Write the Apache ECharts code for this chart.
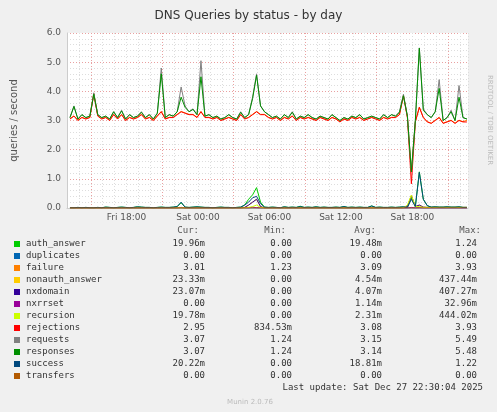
<!DOCTYPE html>
<html><head><meta charset="utf-8">
<script src="https://cdn.jsdelivr.net/npm/echarts@6/dist/echarts.min.js"></script>
<style>html,body{margin:0;padding:0;background:#F0F0F0}#c{width:497px;height:412px}</style>
</head><body><div id="c"></div>
<script>
// time: hours since Fri 00:00, 20-minute steps
const startHour = 13.25, stepHour = 1/3;
const xTickLabels = {18:'Fri 18:00',24:'Sat 00:00',30:'Sat 06:00',36:'Sat 12:00',42:'Sat 18:00'};
const requests = [3.1,3.5,3.05,3.2,3.1,3.15,3.95,3.2,3.1,3.15,
3.05,3.3,3.1,3.35,3.05,3.2,3.1,3.15,3.3,3.1,
3.2,3.05,3.25,4.8,3.1,3.2,3.15,3.3,4.15,3.5,
3.3,3.4,3.2,5.05,3.15,3.2,3.1,3.15,3.05,3.1,
3.2,3.1,3.05,3.3,3.1,3.2,3.8,4.6,3.5,3.3,
3.2,3.1,3.15,3.05,3.2,3.1,3.3,3.05,3.15,3.1,
3.2,3.1,3.05,3.15,3.1,3.05,3.2,3.1,3.0,3.1,
3.05,3.15,3.1,3.2,3.05,3.1,3.15,3.1,3.05,3.2,
3.1,3.2,3.15,3.3,3.9,3.15,1.24,3.0,5.49,3.4,
3.2,3.1,3.3,4.4,3.0,3.1,3.35,3.0,4.2,3.1,3.05];
const responses = [3.1,3.48,3.05,3.2,3.1,3.15,3.9,3.2,3.1,3.15,
3.05,3.3,3.1,3.33,3.05,3.2,3.1,3.15,3.28,3.1,
3.2,3.05,3.25,4.6,3.1,3.2,3.15,3.3,3.8,3.45,
3.3,3.38,3.2,4.5,3.15,3.2,3.1,3.15,3.05,3.1,
3.2,3.1,3.05,3.28,3.1,3.2,3.75,4.55,3.5,3.3,
3.2,3.1,3.15,3.05,3.2,3.1,3.28,3.05,3.15,3.1,
3.2,3.1,3.05,3.15,3.1,3.05,3.2,3.1,3.0,3.1,
3.05,3.15,3.1,3.2,3.05,3.1,3.15,3.1,3.05,3.2,
3.1,3.2,3.15,3.28,3.85,3.15,1.24,3.0,5.48,3.35,
3.2,3.1,3.3,4.1,3.0,3.1,3.3,3.0,3.8,3.1,3.05];
const rejections = [3.05,3.15,3.0,3.1,3.05,3.1,3.9,3.15,3.05,3.1,
3.0,3.2,3.05,3.2,3.0,3.1,3.05,3.1,3.2,3.05,
3.1,3.0,3.15,3.3,3.05,3.1,3.1,3.2,3.3,3.25,
3.2,3.2,3.1,3.3,3.1,3.1,3.05,3.1,3.0,3.05,
3.1,3.05,3.0,3.2,3.05,3.1,3.2,3.3,3.2,3.2,
3.1,3.05,3.1,3.0,3.1,3.05,3.15,3.0,3.1,3.05,
3.1,3.05,3.0,3.1,3.05,3.0,3.1,3.05,2.95,3.05,
3.0,3.1,3.05,3.1,3.0,3.05,3.1,3.05,3.0,3.1,
3.05,3.1,3.1,3.2,3.85,3.1,0.83,2.95,3.45,3.1,
2.95,2.9,3.0,3.1,2.9,2.95,3.0,2.9,3.0,2.95,2.95];
const failure = [3.06,3.16,3.01,3.11,3.06,3.11,3.93,3.16,3.06,3.11,
3.01,3.21,3.06,3.21,3.01,3.11,3.06,3.11,3.21,3.06,
3.11,3.01,3.16,3.31,3.06,3.11,3.11,3.21,3.31,3.26,
3.21,3.21,3.11,3.31,3.11,3.11,3.06,3.11,3.01,3.06,
3.11,3.06,3.01,3.21,3.06,3.11,3.21,3.31,3.21,3.21,
3.11,3.06,3.11,3.01,3.11,3.06,3.16,3.01,3.11,3.06,
3.11,3.06,3.01,3.11,3.06,3.01,3.11,3.06,2.96,3.06,
3.01,3.11,3.06,3.11,3.01,3.06,3.11,3.06,3.01,3.11,
3.06,3.11,3.11,3.21,3.86,3.11,1.23,2.96,3.46,3.11,
2.96,2.91,3.01,3.11,2.91,2.96,3.01,2.91,3.01,2.96,3.01];
const success = [0.01,0.01,0.02,0.01,0.02,0.01,0.01,0.02,0.01,0.03,
0.02,0.01,0.02,0.03,0.02,0.01,0.02,0.04,0.03,0.02,
0.02,0.01,0.02,0.03,0.02,0.02,0.03,0.05,0.2,0.03,
0.02,0.03,0.04,0.03,0.02,0.02,0.01,0.02,0.03,0.02,
0.02,0.01,0.02,0.03,0.1,0.2,0.35,0.4,0.15,0.03,
0.02,0.03,0.02,0.01,0.04,0.02,0.03,0.02,0.05,0.02,
0.03,0.02,0.04,0.02,0.03,0.02,0.02,0.03,0.02,0.05,
0.02,0.03,0.02,0.03,0.02,0.02,0.07,0.02,0.03,0.02,
0.02,0.03,0.02,0.03,0.04,0.02,0.3,0.05,1.22,0.3,
0.08,0.03,0.04,0.03,0.03,0.04,0.03,0.03,0.04,0.02,0.02];
const authAnswer = [0.01,0.01,0.02,0.01,0.02,0.01,0.01,0.02,0.01,0.03,
0.02,0.01,0.02,0.03,0.02,0.01,0.02,0.04,0.03,0.02,
0.02,0.01,0.02,0.03,0.02,0.02,0.03,0.05,0.18,0.03,
0.02,0.03,0.04,0.03,0.02,0.02,0.01,0.02,0.03,0.02,
0.02,0.01,0.02,0.03,0.1,0.3,0.45,0.7,0.2,0.03,
0.02,0.03,0.02,0.01,0.04,0.02,0.03,0.02,0.06,0.02,
0.03,0.02,0.04,0.02,0.03,0.02,0.02,0.03,0.02,0.05,
0.02,0.03,0.02,0.03,0.02,0.02,0.07,0.02,0.03,0.02,
0.02,0.03,0.02,0.03,0.04,0.02,0.35,0.05,1.24,0.3,
0.08,0.03,0.04,0.03,0.03,0.04,0.03,0.03,0.04,0.02,0.02];
const nonauthAnswer = [0,0,0,0,0,0,0,0,0,0, 0,0,0,0,0,0,0,0,0,0, 0,0,0,0,0,0,0,0,0.02,0, 0,0,0,0,0,0,0,0,0,0,
0,0,0,0,0.02,0.1,0.2,0.3,0.05,0, 0,0,0,0,0,0,0,0,0,0, 0,0,0,0,0,0,0,0,0,0, 0,0,0,0,0,0,0,0,0,0,
0,0,0,0,0.01,0.05,0.44,0.05,0.1,0.03, 0.02,0.02,0.02,0.02,0.02,0.02,0.02,0.02,0.02,0.02,0.02];
const nxdomain = [0,0,0,0,0,0,0,0,0,0, 0,0,0,0,0,0,0,0,0,0, 0,0,0,0,0,0,0,0,0.02,0, 0,0,0,0,0,0,0,0,0,0,
0,0,0,0,0.02,0.1,0.2,0.3,0.05,0, 0,0,0,0,0,0,0,0,0,0, 0,0,0,0,0,0,0,0,0,0, 0,0,0,0,0,0,0,0,0,0,
0,0,0,0,0.01,0.05,0.41,0.05,0.1,0.03, 0.02,0.02,0.02,0.02,0.02,0.02,0.02,0.02,0.02,0.02,0.02];
const recursion = [0,0,0,0,0,0,0,0,0,0, 0,0,0,0,0,0,0,0,0,0, 0,0,0,0,0,0,0,0,0,0, 0,0,0,0,0,0,0,0,0,0,
0,0,0,0,0,0.02,0.05,0.1,0.02,0, 0,0,0,0,0,0,0,0,0,0, 0,0,0,0,0,0,0,0,0,0, 0,0,0,0,0,0,0,0,0,0,
0,0,0,0,0.01,0.1,0.44,0.05,0.05,0.02, 0.02,0.02,0.02,0.02,0.02,0.02,0.02,0.02,0.02,0.02,0.02];
const nxrrset = [0,0,0,0,0,0,0,0,0,0, 0,0,0,0,0,0,0,0,0,0, 0,0,0,0,0,0,0,0,0,0, 0,0,0,0,0,0,0,0,0,0,
0,0,0,0,0,0,0.03,0.01,0,0, 0,0,0,0,0,0,0,0,0,0, 0,0,0,0,0,0,0,0,0,0, 0,0,0,0,0,0,0,0,0,0,
0,0,0,0,0,0,0.02,0,0.01,0, 0,0,0,0,0,0,0,0,0,0,0];
const zeros = requests.map(()=>0);

const legendRows = [
 ['auth_answer','#00CC00','19.96m','0.00','19.48m','1.24'],
 ['duplicates','#0066B3','0.00','0.00','0.00','0.00'],
 ['failure','#FF8000','3.01','1.23','3.09','3.93'],
 ['nonauth_answer','#FFCC00','23.33m','0.00','4.54m','437.44m'],
 ['nxdomain','#330099','23.07m','0.00','4.07m','407.27m'],
 ['nxrrset','#990099','0.00','0.00','1.14m','32.96m'],
 ['recursion','#CCFF00','19.78m','0.00','2.31m','444.02m'],
 ['rejections','#FF0000','2.95','834.53m','3.08','3.93'],
 ['requests','#808080','3.07','1.24','3.15','5.49'],
 ['responses','#008F00','3.07','1.24','3.14','5.48'],
 ['success','#00487D','20.22m','0.00','18.81m','1.22'],
 ['transfers','#B35A00','0.00','0.00','0.00','0.00']
];
const seriesData = {
 auth_answer:authAnswer, duplicates:zeros, failure:failure, nonauth_answer:nonauthAnswer,
 nxdomain:nxdomain, nxrrset:nxrrset, recursion:recursion, rejections:rejections,
 requests:requests, responses:responses, success:success, transfers:zeros
};

const toXY = arr => arr.map((v,i)=>[startHour+i*stepHour, v]);
const series = legendRows.map(r=>({
  type:'line', name:r[0], data:toXY(seriesData[r[0]]), showSymbol:false, animation:false,
  lineStyle:{color:r[1], width:1}, itemStyle:{color:r[1]}, z: 2
}));

const mono = '"DejaVu Sans Mono", monospace';
const graphics = [];
const colX = [205, 292, 382, 477];
['Cur:','Min:','Avg:','Max:'].forEach((h,i)=>graphics.push({type:'text', right: 497-colX[i]+(i===3?-4:6), top:226,
  style:{text:h, font:'9px '+mono, fill:'#555', textAlign:'right'}}));
legendRows.forEach((r,k)=>{
  const y = 244 + k*12;
  graphics.push({type:'rect', shape:{x:14,y:y-3,width:6,height:6}, style:{fill:r[1]}});
  graphics.push({type:'text', x:26, y:y, style:{text:r[0], font:'9px '+mono, fill:'#333', textVerticalAlign:'middle'}});
  for(let c=0;c<4;c++) graphics.push({type:'text', x:colX[c], y:y, style:{text:r[2+c], font:'9px '+mono, fill:'#333', textAlign:'right', textVerticalAlign:'middle'}});
});
graphics.push({type:'text', x:483, y:388, style:{text:'Last update: Sat Dec 27 22:30:04 2025', font:'9px '+mono, fill:'#333', textAlign:'right', textVerticalAlign:'middle'}});
graphics.push({type:'text', x:250, y:402, style:{text:'Munin 2.0.76', font:'7px "DejaVu Sans"', fill:'#bbb', textAlign:'center', textVerticalAlign:'middle'}});
graphics.push({type:'text', x:490, y:120, rotation:-Math.PI/2, style:{text:'RRDTOOL / TOBI OETIKER', font:'7px "DejaVu Sans"', fill:'#bbb', textAlign:'center', textVerticalAlign:'middle'}});

const chart = echarts.init(document.getElementById('c'));
chart.setOption({
  backgroundColor:'#F0F0F0', animation:false,
  title:{text:'DNS Queries by status - by day', left:'center', top:5, textStyle:{fontFamily:'DejaVu Sans', fontSize:12, fontWeight:'normal', color:'#333'}},
  grid:{left:67, right:29, top:33, bottom:204, backgroundColor:'#fff', show:true, borderWidth:0},
  xAxis:{type:'value', min:13, max:46.67, interval:1,
    axisLine:{lineStyle:{color:'#ccc'}}, axisTick:{show:false},
    axisLabel:{interval:0, showMinLabel:true, showMaxLabel:false, color:'#555', fontFamily:'DejaVu Sans', fontSize:9, margin:5,
      formatter:v=>xTickLabels[Math.round(v)] && Math.abs(v-Math.round(v))<1e-6 ? xTickLabels[Math.round(v)] : ''},
    splitLine:{show:true, lineStyle:{type:[1,2], width:1, color:['#ddd','#ddd','#e9a0a0','#ddd','#ddd','#ddd']}}},
  yAxis:{type:'value', min:0, max:6, interval:0.2, name:'queries / second', nameLocation:'middle', nameGap:48,
    nameTextStyle:{fontFamily:'DejaVu Sans', fontSize:10, color:'#555'},
    axisLine:{show:true, lineStyle:{color:'#ccc'}}, axisTick:{show:false},
    axisLabel:{color:'#555', fontFamily:'DejaVu Sans', fontSize:9, margin:6,
      formatter:v=>Math.abs(v-Math.round(v))<1e-6 ? v.toFixed(1) : ''},
    splitLine:{show:true, lineStyle:{type:[1,2], width:1, color:['#e9a0a0','#ddd','#ddd','#ddd','#ddd']}}},
  series:series,
  graphic:graphics
});
</script></body></html>
